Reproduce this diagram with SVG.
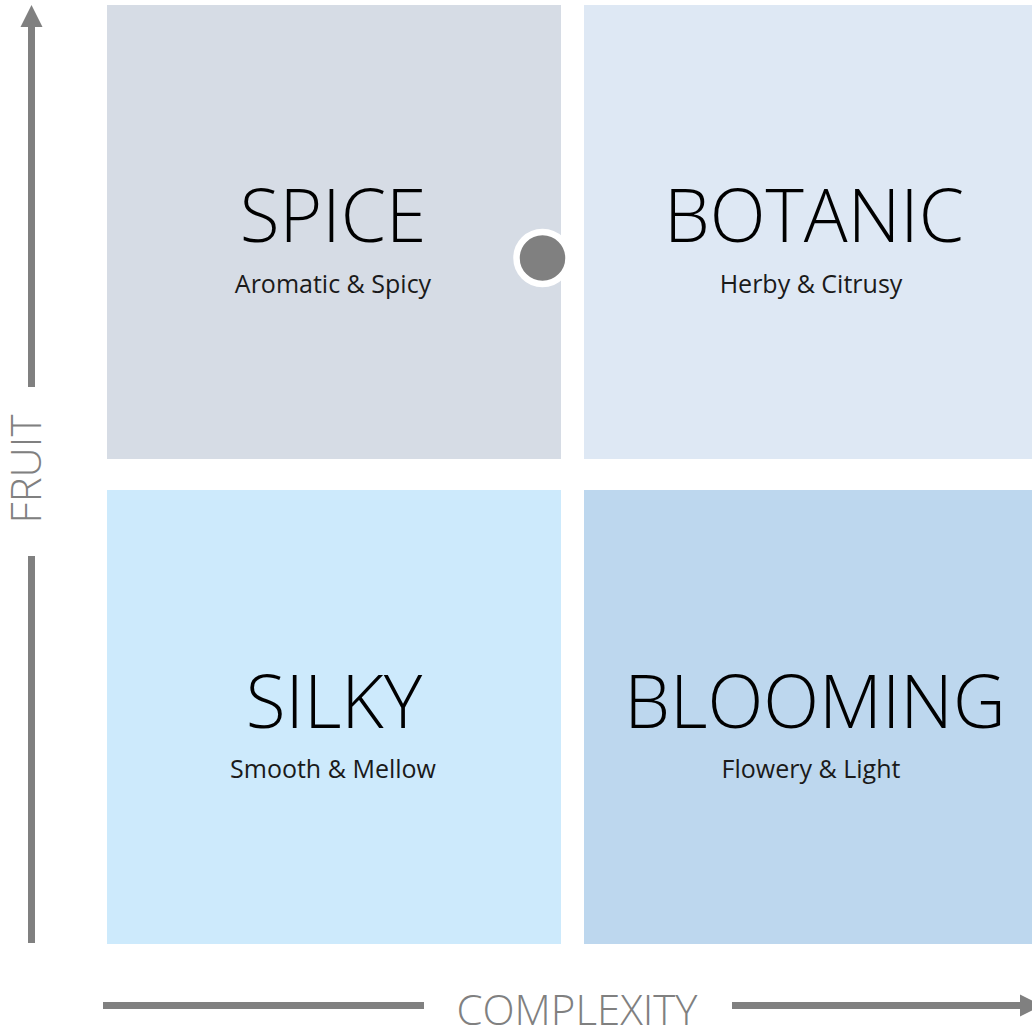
<svg xmlns="http://www.w3.org/2000/svg" width="1032" height="1030" viewBox="0 0 1032 1030">
  <style>
    .title { font-family: "Open Sans", "Liberation Sans", sans-serif; font-weight: 300; font-size: 73px; fill: #000000; text-anchor: middle; }
    .sub { font-family: "Open Sans", "Liberation Sans", sans-serif; font-weight: 400; font-size: 25px; fill: #1a1a1a; text-anchor: middle; }
    .axis-label { font-family: "Open Sans", "Liberation Sans", sans-serif; font-weight: 300; font-size: 42px; fill: #808080; text-anchor: middle; }
    .axis { stroke: #808080; stroke-width: 7; fill: none; }
    .head { fill: #808080; }
  </style>
  <rect width="1032" height="1030" fill="#ffffff"/>
  <g id="spice">
    <rect x="107" y="5" width="454" height="454" fill="#d6dce5"/>
    <text class="title" x="333" y="242">SPICE</text>
    <text class="sub" x="333" y="293">Aromatic &amp; Spicy</text>
  </g>
  <g id="botanic">
    <rect x="584" y="5" width="454" height="454" fill="#dee8f4"/>
    <text class="title" x="814" y="242">BOTANIC</text>
    <text class="sub" x="811" y="293">Herby &amp; Citrusy</text>
  </g>
  <g id="silky">
    <rect x="107" y="490" width="454" height="454" fill="#cdeafc"/>
    <text class="title" x="334" y="728">SILKY</text>
    <text class="sub" x="333" y="778">Smooth &amp; Mellow</text>
  </g>
  <g id="blooming">
    <rect x="584" y="490" width="454" height="454" fill="#bdd7ee"/>
    <text class="title" x="815" y="728">BLOOMING</text>
    <text class="sub" x="811" y="778">Flowery &amp; Light</text>
  </g>
  <g id="marker-dot">
    <circle cx="542.5" cy="258" r="26" fill="#808080" stroke="#ffffff" stroke-width="6.5"/>
  </g>
  <g id="connectors">
    <line class="axis" x1="31.5" y1="943" x2="31.5" y2="556"/>
    <line class="axis" x1="31.5" y1="387" x2="31.5" y2="26"/>
    <polygon class="head" points="20.5,27 31.5,5 42.5,27"/>
    <line class="axis" x1="103" y1="1005.5" x2="424" y2="1005.5"/>
    <line class="axis" x1="732" y1="1005.5" x2="1021" y2="1005.5"/>
    <polygon class="head" points="1020,994.5 1042,1005.5 1020,1016.5"/>
  </g>
  <g id="axis-labels">
    <text class="axis-label" transform="translate(41,469) rotate(-90)" x="0" y="0">FRUIT</text>
    <text class="axis-label" x="577" y="1025">COMPLEXITY</text>
  </g>
</svg>
